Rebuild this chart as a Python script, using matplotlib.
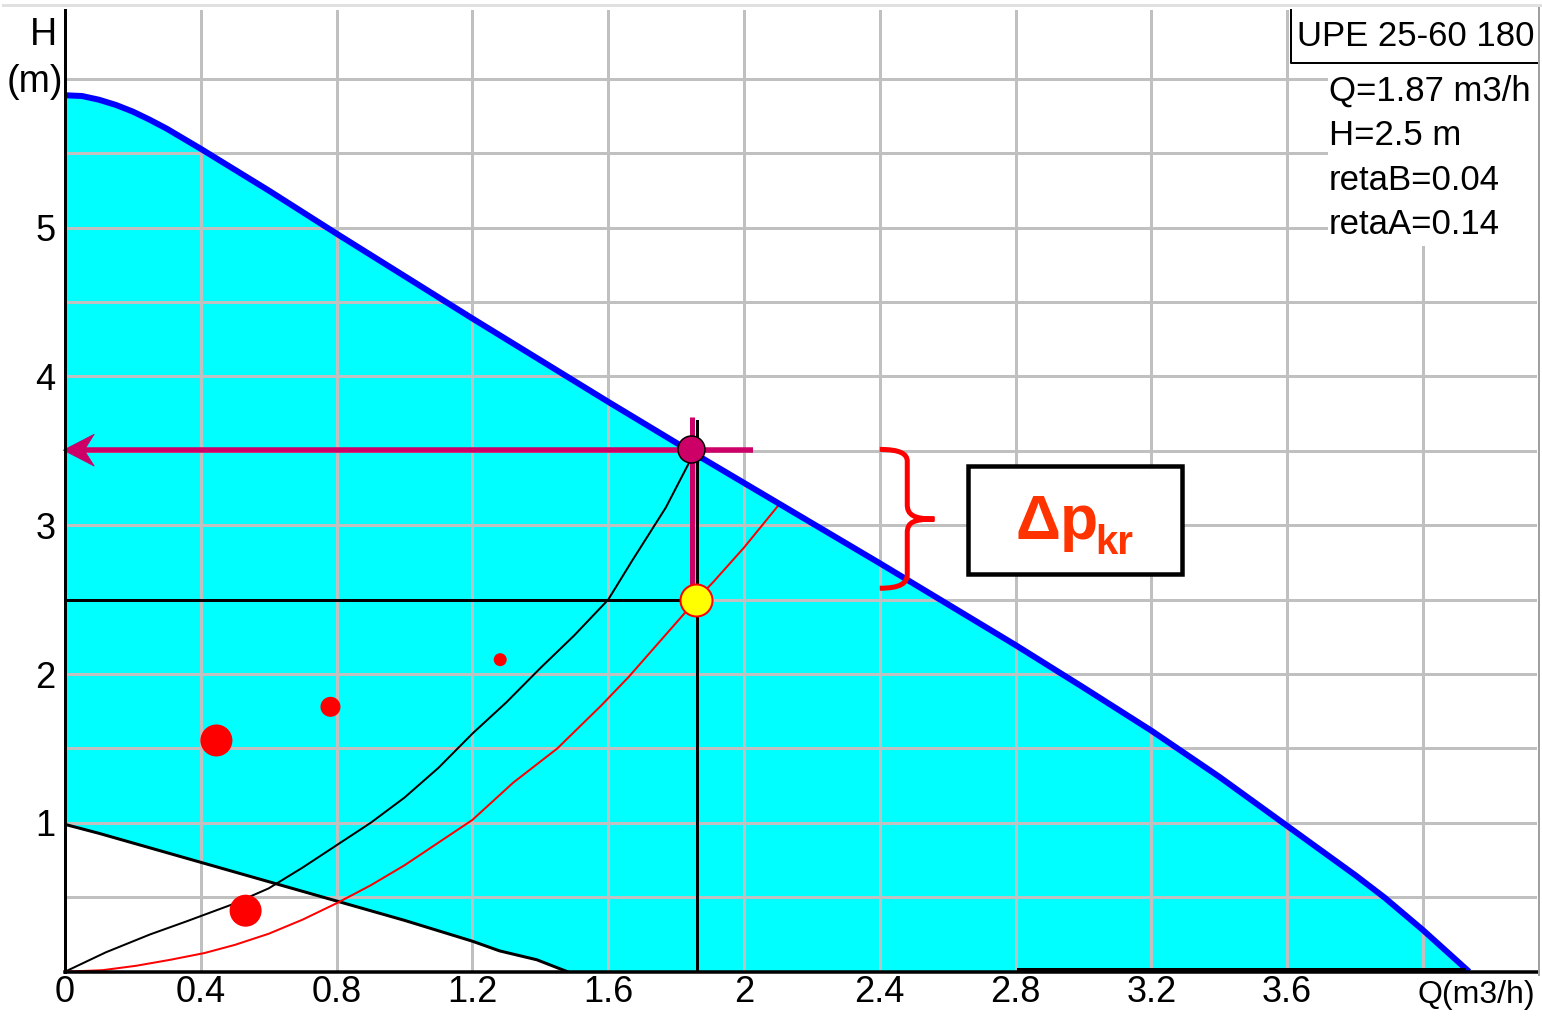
import numpy as np
import matplotlib
matplotlib.use('Agg')
import matplotlib.pyplot as plt
from matplotlib.path import Path
from matplotlib.patches import PathPatch, Rectangle, Polygon

plt.rcParams['font.family'] = ['Liberation Sans', 'DejaVu Sans']

# pump curve UPE 25-60 (blue)
pump_q = [0.0, 0.05, 0.1, 0.15, 0.2, 0.25, 0.3, 0.4, 0.5, 0.6, 0.8, 1.0, 1.2, 1.4, 1.6,
          1.8, 2.0, 2.2, 2.4, 2.6, 2.8, 3.0, 3.2, 3.4, 3.6, 3.8, 3.886, 4.0, 4.136]
pump_h = [5.89, 5.885, 5.86, 5.825, 5.78, 5.725, 5.665, 5.53, 5.39, 5.25, 4.96, 4.675, 4.39,
          4.11, 3.83, 3.555, 3.285, 3.015, 2.745, 2.47, 2.195, 1.91, 1.62, 1.31, 0.98, 0.65,
          0.50, 0.28, 0.0]

# lower limit of working area (black)
low_q = [0.0, 0.1, 0.2, 0.3, 0.4, 0.5, 0.6, 0.7, 0.8, 0.9, 1.0, 1.1, 1.2, 1.28, 1.39, 1.48]
low_h = [0.99, 0.93, 0.865, 0.80, 0.735, 0.67, 0.605, 0.54, 0.475, 0.41, 0.345, 0.275, 0.205,
         0.14, 0.08, 0.0]

# system curve A (black)
sysA_q = [0.0, 0.12, 0.25, 0.36, 0.49, 0.6, 0.7, 0.8, 0.9, 1.0, 1.1, 1.2, 1.3, 1.4, 1.5,
          1.6, 1.67, 1.77, 1.845]
sysA_h = [0.0, 0.13, 0.25, 0.34, 0.45, 0.56, 0.70, 0.85, 1.00, 1.17, 1.37, 1.60, 1.81, 2.04, 2.26,
          2.50, 2.76, 3.12, 3.45]

# system curve B (red)
sysB_q = [0.0, 0.11, 0.21, 0.31, 0.41, 0.5, 0.6, 0.7, 0.8, 0.9, 1.0, 1.2, 1.32, 1.45, 1.58,
          1.66, 1.86, 1.91, 2.0, 2.1]
sysB_h = [0.0, 0.01, 0.04, 0.08, 0.125, 0.18, 0.255, 0.35, 0.46, 0.58, 0.715, 1.02, 1.27, 1.50,
          1.79, 1.98, 2.50, 2.62, 2.85, 3.13]

# red dots
dot_q = [0.446, 0.532, 0.782, 1.282]
dot_h = [1.554, 0.41, 1.78, 2.097]
dot_r = [16, 16, 10, 6.5]  # px

# points
op_q, op_h = 1.86, 2.5       # working point
pt_q, pt_h = 1.845, 3.51     # point on pump curve

xticks = [0, 0.4, 0.8, 1.2, 1.6, 2.0, 2.4, 2.8, 3.2, 3.6]
xtick_labels = ['0', '0.4', '0.8', '1.2', '1.6', '2', '2.4', '2.8', '3.2', '3.6']
yticks = [1, 2, 3, 4, 5]
info_lines = ['Q=1.87 m3/h', 'H=2.5 m', 'retaB=0.04', 'retaA=0.14']

W, H = 1542, 1017
PX = 0.72  # px -> pt at dpi 100
mag = '#CC0066'
XPU, YPU = 339.5, 148.8  # px per data unit

fig = plt.figure(figsize=(W / 100, H / 100), dpi=100)
ax = fig.add_axes([65 / W, (H - 971.7) / H, (1537 - 65) / W, 961.7 / H])
ax.set_xlim(0, 4.336)
ax.set_ylim(0, 6.463)


def fx(x, y):
    return (x / W, 1 - y / H)


# grid
for q in np.arange(0.4, 4.01, 0.4):
    ax.axvline(q, color='#C0C0C0', lw=3 * PX, zorder=1.5)
for h in np.arange(0.5, 6.01, 0.5):
    ax.axhline(h, color='#C0C0C0', lw=3 * PX, zorder=1.5)

# cyan working area
poly_q = list(pump_q) + [low_q[-1]] + list(low_q[::-1])
poly_h = list(pump_h) + [0.0] + list(low_h[::-1])
ax.fill(poly_q, poly_h, color='#00FFFF', lw=0, zorder=1)

ax.plot(low_q, low_h, color='black', lw=3 * PX, zorder=2)
ax.plot(sysA_q, sysA_h, color='black', lw=2 * PX, zorder=2)
ax.plot(sysB_q, sysB_h, color='#FF0000', lw=2 * PX, zorder=2)
ax.plot(pump_q, pump_h, color='#0000FF', lw=6 * PX, zorder=3, solid_capstyle='butt')

ax.scatter(dot_q, dot_h, s=[(2 * r * PX) ** 2 for r in dot_r], color='#FF0000', lw=0, zorder=3)

# working point lines
ax.plot([0, op_q], [op_h, op_h], color='black', lw=3 * PX, zorder=3)
ax.plot([1.862, 1.862], [0, 3.70], color='black', lw=3 * PX, zorder=3)
ax.plot([0.05, 2.027], [3.505, 3.505], color=mag, lw=5.5 * PX, zorder=4, solid_capstyle='butt')
ax.plot([1.848, 1.848], [2.54, 3.73], color=mag, lw=5 * PX, zorder=4, solid_capstyle='butt')
# notched arrow head at the H axis
tip_q, tip_h = -0.005, 3.505
head = [(0, 0), (31, 16), (21, 0), (31, -16)]
ax.add_patch(Polygon([(tip_q + a / XPU, tip_h + b / YPU) for a, b in head], closed=True,
                     facecolor=mag, edgecolor=mag, lw=0.5, zorder=4, clip_on=False))
ax.scatter([op_q], [op_h], s=(32 * PX) ** 2, color='#FFFF00', edgecolors='#FF0000',
           linewidths=2 * PX, zorder=5)
ax.scatter([pt_q], [pt_h], s=(27 * PX) ** 2, color=mag, edgecolors='black',
           linewidths=1.5 * PX, zorder=5)

# thick segment on the Q axis
ax.plot([2.81, 4.12], [0.012, 0.012], color='black', lw=4 * PX, zorder=3, clip_on=False)

# brace
verts = [(2.40, 3.51), (2.46, 3.51), (2.481, 3.48), (2.481, 3.43),
         (2.481, 3.14),
         (2.481, 3.07), (2.50, 3.042), (2.561, 3.042),
         (2.50, 3.042), (2.481, 3.02), (2.481, 2.95),
         (2.481, 2.67),
         (2.481, 2.61), (2.46, 2.577), (2.40, 2.577)]
codes = [Path.MOVETO, Path.CURVE4, Path.CURVE4, Path.CURVE4,
         Path.LINETO,
         Path.CURVE4, Path.CURVE4, Path.CURVE4,
         Path.CURVE4, Path.CURVE4, Path.CURVE4,
         Path.LINETO,
         Path.CURVE4, Path.CURVE4, Path.CURVE4]
ax.add_patch(PathPatch(Path(verts, codes), fill=False, edgecolor='#FF0000', lw=5 * PX, zorder=4,
                       capstyle='butt'))

# delta p box
ax.add_patch(Rectangle((2.66, 2.67), 0.63, 0.73, facecolor='white', edgecolor='black',
                       lw=4.5 * PX, zorder=4))
ax.text(2.80, 2.906, 'Δp', color='#FF3300', fontsize=45, fontweight='bold',
        ha='left', va='baseline', zorder=5)
ax.text(3.035, 2.81, 'kr', color='#FF3300', fontsize=29, fontweight='bold',
        ha='left', va='baseline', zorder=5)

# info block top right
ax.add_patch(Rectangle((3.72, 4.88), 0.7, 1.23, facecolor='white', lw=0, zorder=1.8))
ax.add_patch(Rectangle((3.611, 6.11), 0.8, 0.5, facecolor='white', lw=0, zorder=1.8))
ax.plot([3.611, 3.611, 4.336], [6.463, 6.11, 6.11], color='black', lw=2 * PX, zorder=3,
        clip_on=False)
fig.text(*fx(1297, 37), 'UPE 25-60 180', fontsize=25, ha='left', va='center')
for i, s in enumerate(info_lines):
    fig.text(*fx(1329, 91 + i * 44.5), s, fontsize=25, ha='left', va='center')

# axes styling
for side in ['top', 'right']:
    ax.spines[side].set_visible(False)
ax.spines['left'].set_linewidth(3 * PX)
ax.spines['bottom'].set_linewidth(3.5 * PX)
ax.spines['left'].set_zorder(6)
ax.spines['bottom'].set_zorder(6)
ax.set_xticks(xticks)
ax.set_xticklabels(xtick_labels)
ax.set_yticks(yticks)
ax.set_yticklabels([str(t) for t in yticks])
ax.tick_params(length=0, labelsize=26)
ax.tick_params(axis='x', pad=2.5)
ax.tick_params(axis='y', pad=7)

fig.text(*fx(43, 35), 'H', fontsize=27, ha='center', va='center')
fig.text(*fx(35, 82), '(m)', fontsize=27, ha='center', va='center')
fig.text(*fx(1476, 995), 'Q(m3/h)', fontsize=23, ha='center', va='center')

# window frame lines
fig.add_artist(plt.Line2D([3 / W, 1540 / W], [1 - 5 / H, 1 - 5 / H], color='#E0E0E0', lw=3 * PX))
fig.add_artist(plt.Line2D([1538.5 / W, 1538.5 / W], [1 - 8 / H, 1 - 975 / H], color='#A0A0A0',
                          lw=2 * PX))

fig.savefig('out.png', dpi=100, facecolor='white')
